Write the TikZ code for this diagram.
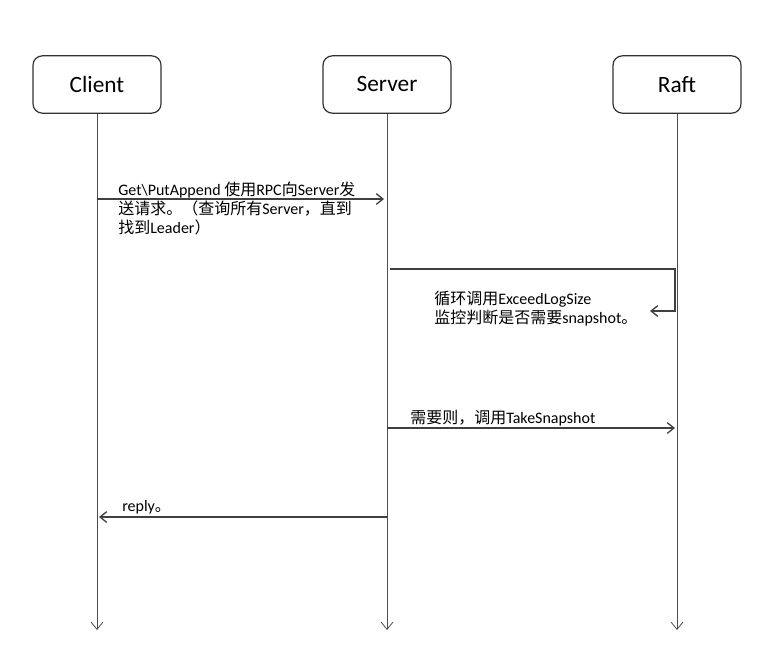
\documentclass[tikz,border=0pt]{standalone}
\usepackage{fontspec}
\setmainfont{Carlito}
\newfontfamily\cjk{Noto Sans CJK SC}
\usetikzlibrary{arrows.meta}
\newcommand{\zh}[1]{{\cjk #1}}

\begin{document}
\begin{tikzpicture}[x=0.75pt,y=-0.75pt,
    actor/.style={draw=black!80, line width=0.9pt, rounded corners=7pt, minimum width=96pt,
        minimum height=43pt, font=\fontsize{17.5}{20}\selectfont},
    life/.style={draw=black!70, line width=0.6pt, -{Straight Barb[length=5.5pt,width=9pt]}},
    msg/.style={draw=black!75, line width=1pt, -{Straight Barb[length=5pt,width=8pt]}},
    msgtext/.style={anchor=north west, inner sep=0pt, align=left,
        font=\fontsize{12}{14.2}\selectfont}]

    % Fix the page to the size of the reference
    \useasboundingbox (0,0) rectangle (777,668);

    % Draw the three actors with their lifelines
    \foreach \name/\txt/\x in {client/Client/97, server/Server/387, raft/Raft/677}{
        \node[actor] (\name) at (\x,84.5) {\txt};
        \coordinate (\name end) at (\x,630);
        \draw[life] (\name) -- (\name end);
    }

    % Client asks the server
    \coordinate (ask from) at (97,199);
    \coordinate (ask to) at (384,199);
    \draw[msg] (ask from) -- (ask to);
    \node[msgtext] (ask text) at (118,182)
        {Get\textbackslash PutAppend \zh{使用}RPC\zh{向}Server\zh{发}\\
         \zh{送请求。（查询所有}Server\zh{，直到}\\
         \zh{找到}Leader\zh{）}};

    % Server keeps polling the log size
    \coordinate (poll from) at (390,269);
    \coordinate (poll corner a) at (675,269);
    \coordinate (poll corner b) at (675,311);
    \coordinate (poll to) at (650,311);
    \draw[msg] (poll from) -- (poll corner a) -- (poll corner b) -- (poll to);
    \node[msgtext] (poll text) at (434,291)
        {\zh{循环调用}ExceedLogSize\\
         \zh{监控判断是否需要}snapshot\zh{。}};

    % Server takes the snapshot when needed
    \coordinate (snap from) at (387,428);
    \coordinate (snap to) at (675,428);
    \draw[msg] (snap from) -- (snap to);
    \node[msgtext] (snap text) at (410,410) {\zh{需要则，调用}TakeSnapshot};

    % Server replies to the client
    \coordinate (reply from) at (387,517);
    \coordinate (reply to) at (99,517);
    \draw[msg] (reply from) -- (reply to);
    \node[msgtext] (reply text) at (122,500) {reply\zh{。}};

\end{tikzpicture}
\end{document}
